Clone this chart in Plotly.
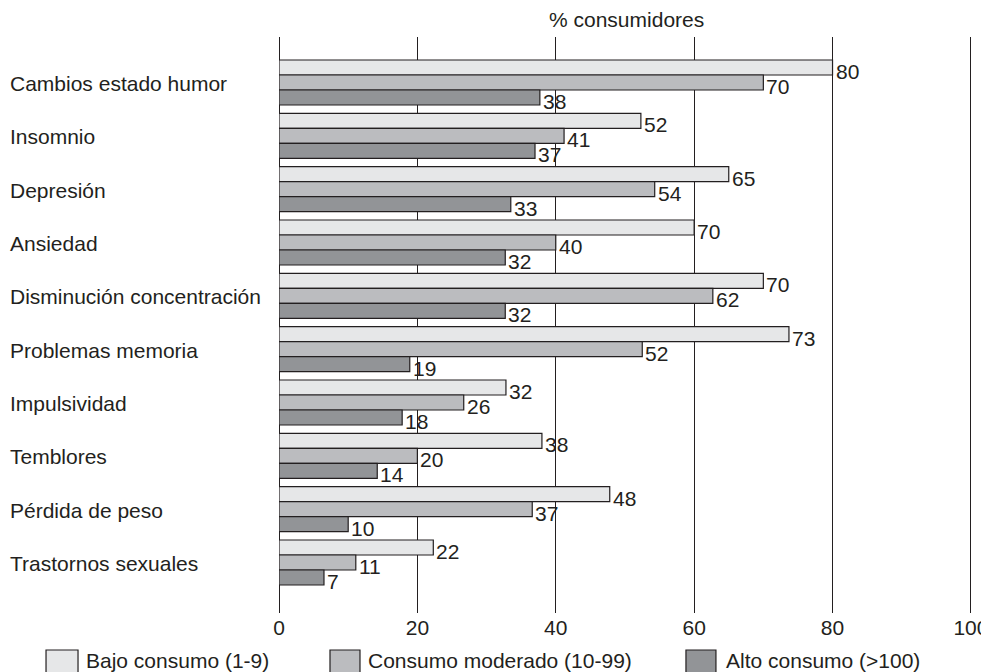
import plotly.graph_objects as go

categories = ["Cambios estado humor", "Insomnio", "Depresión", "Ansiedad",
              "Disminución concentración", "Problemas memoria", "Impulsividad",
              "Temblores", "Pérdida de peso", "Trastornos sexuales"]
series_names = ["Bajo consumo (1-9)", "Consumo moderado (10-99)", "Alto consumo (>100)"]

# bar lengths as drawn in the picture
bajo_bars = [80, 52.3, 65, 60, 70, 73.7, 32.8, 38, 47.8, 22.3]
moderado_bars = [70, 41.2, 54.3, 40, 62.7, 52.5, 26.7, 20, 36.6, 11.1]
alto_bars = [37.7, 37, 33.5, 32.7, 32.7, 18.9, 17.8, 14.2, 10, 6.5]

# value labels as printed in the picture
bajo_labels = [80, 52, 65, 70, 70, 73, 32, 38, 48, 22]
moderado_labels = [70, 41, 54, 40, 62, 52, 26, 20, 37, 11]
alto_labels = [38, 37, 33, 32, 32, 19, 18, 14, 10, 7]

x_ticks = [0, 20, 40, 60, 80, 100]
colors = ["#e6e7e8", "#bbbcbf", "#929497"]
FONT = "Liberation Sans, Arial, sans-serif"
FS = 21
INK = "#231f20"

bars = [bajo_bars, moderado_bars, alto_bars]
labels = [bajo_labels, moderado_labels, alto_labels]

fig = go.Figure()
for name, vals, col in zip(series_names, bars, colors):
    fig.add_trace(go.Bar(
        y=categories, x=vals, orientation="h", name=name,
        marker=dict(color=col, line=dict(color=INK, width=1.2)),
        showlegend=False,
    ))

# page is offset by the 8px body margin
OFF = 8
W, H = 989 - OFF, 672 - OFF
L, T, B_PX = 279 - OFF, 37 - OFF, 613 - OFF
X_MAX = 100.3
pw100 = 692.0                     # pixels for 0..100
pw_tot = pw100 * X_MAX / 100
R_M = W - L - pw_tot
ph = B_PX - T
BARGAP = 0.156
Y_RANGE = [9.947, -0.853]
px_per_cat = ph / (Y_RANGE[0] - Y_RANGE[1])
bar_px = px_per_cat * (1 - BARGAP) / 3

def px(x):
    return (x - OFF - L) / pw_tot

def py(y):
    return (B_PX - (y - OFF)) / ph

fig.update_layout(
    width=W, height=H,
    margin=dict(l=L, r=R_M, t=T, b=H - B_PX, pad=0, autoexpand=False),
    paper_bgcolor="white", plot_bgcolor="white",
    barmode="group", bargap=BARGAP, bargroupgap=0,
    font=dict(family=FONT, size=FS, color=INK),
    xaxis=dict(range=[0, X_MAX], tickvals=x_ticks, ticktext=[str(v) for v in x_ticks],
               automargin=False, ticklabeloverflow="allow",
               showgrid=True, gridcolor=INK, gridwidth=1.3,
               zeroline=True, zerolinecolor=INK, zerolinewidth=1.3,
               showline=False, ticks="", tickfont=dict(family=FONT, size=FS, color=INK)),
    yaxis=dict(categoryorder="array", categoryarray=categories, automargin=False,
               range=Y_RANGE, showticklabels=False, showgrid=False,
               zeroline=False, showline=False, ticks=""),
)

# value labels next to bar ends
for k, (vals, labs) in enumerate(zip(bars, labels)):
    for c, v, lab in zip(categories, vals, labs):
        fig.add_annotation(x=v, xref="x", y=c, yref="y", text=str(lab),
                           showarrow=False, xanchor="left", yanchor="middle",
                           xshift=1, yshift=-(k - 1) * bar_px - 4,
                           font=dict(family=FONT, size=FS, color=INK))

# category labels, left aligned
for c in categories:
    fig.add_annotation(x=px(8), xref="paper", y=c, yref="y", text=c,
                       showarrow=False, xanchor="left", yanchor="middle", yshift=-1,
                       font=dict(family=FONT, size=FS, color=INK))

# axis title on top
fig.add_annotation(x=px(627), xref="paper", y=py(19), yref="paper",
                   text="% consumidores", showarrow=False, xanchor="center", yanchor="middle",
                   borderpad=0, font=dict(family=FONT, size=FS, color=INK))

# custom legend
legend_boxes = [(46, 78, 84), (330, 360, 366), (686, 716, 724)]
for (x0, x1, tx), name, col in zip(legend_boxes, series_names, colors):
    fig.add_shape(type="rect", xref="paper", yref="paper",
                  x0=px(x0), x1=px(x1), y0=py(650), y1=py(676),
                  fillcolor=col, line=dict(color=INK, width=1.2))
    fig.add_annotation(x=px(tx), xref="paper", y=py(660), yref="paper",
                       text=name, showarrow=False, xanchor="left", yanchor="middle",
                       font=dict(family=FONT, size=FS, color=INK))

fig.write_html("out.html")
